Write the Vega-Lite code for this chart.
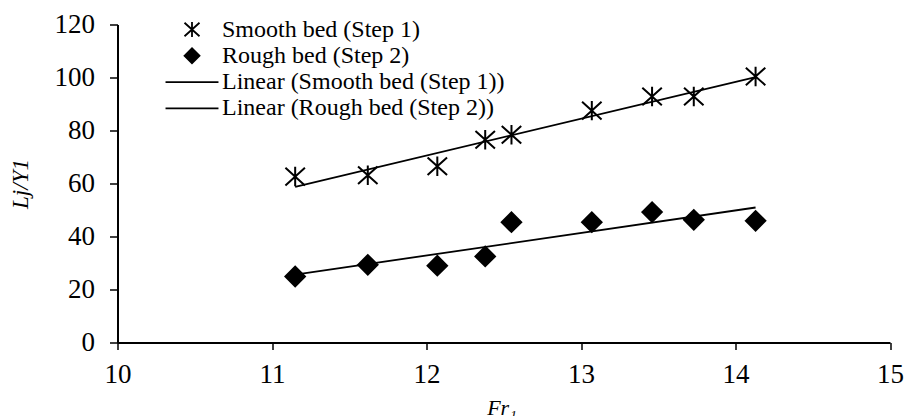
{
  "$schema": "https://vega.github.io/schema/vega-lite/v6.json",
  "width": 772.5,
  "height": 318,
  "autosize": {"type": "none"},
  "padding": {"left": 117.5, "top": 24.5, "right": 17, "bottom": 73.5},
  "background": "white",
  "config": {
    "view": {"stroke": null},
    "font": "Liberation Serif",
    "legend": {"symbolStrokeColor": "black", "symbolFillColor": "black", "symbolStrokeWidth": 1.8, "symbolOpacity": 1}
  },
  "data": {
    "values": [
      {"series": "Smooth bed (Step 1)", "fr": 11.15, "ly": 62.6},
      {"series": "Smooth bed (Step 1)", "fr": 11.62, "ly": 63.1},
      {"series": "Smooth bed (Step 1)", "fr": 12.07, "ly": 66.5},
      {"series": "Smooth bed (Step 1)", "fr": 12.38, "ly": 76.5},
      {"series": "Smooth bed (Step 1)", "fr": 12.55, "ly": 78.4},
      {"series": "Smooth bed (Step 1)", "fr": 13.07, "ly": 87.5},
      {"series": "Smooth bed (Step 1)", "fr": 13.46, "ly": 92.8},
      {"series": "Smooth bed (Step 1)", "fr": 13.73, "ly": 92.8},
      {"series": "Smooth bed (Step 1)", "fr": 14.13, "ly": 100.4},
      {"series": "Rough bed (Step 2)", "fr": 11.15, "ly": 24.9},
      {"series": "Rough bed (Step 2)", "fr": 11.62, "ly": 29.3},
      {"series": "Rough bed (Step 2)", "fr": 12.07, "ly": 29.0},
      {"series": "Rough bed (Step 2)", "fr": 12.38, "ly": 32.5},
      {"series": "Rough bed (Step 2)", "fr": 12.55, "ly": 45.4},
      {"series": "Rough bed (Step 2)", "fr": 13.07, "ly": 45.4},
      {"series": "Rough bed (Step 2)", "fr": 13.46, "ly": 49.2},
      {"series": "Rough bed (Step 2)", "fr": 13.73, "ly": 46.3},
      {"series": "Rough bed (Step 2)", "fr": 14.13, "ly": 45.9}
    ]
  },
  "layer": [
    {
      "mark": {"type": "point", "filled": false, "fill": "black", "strokeWidth": 2, "opacity": 1, "size": 380},
      "encoding": {
        "x": {
          "field": "fr", "type": "quantitative",
          "scale": {"domain": [10, 15], "nice": false, "zero": false},
          "axis": {
            "values": [10, 11, 12, 13, 14, 15], "format": "d",
            "title": "Fr₁", "titleFont": "Liberation Serif", "titleFontStyle": "italic", "titleFontWeight": "normal",
            "titleFontSize": 22, "titleColor": "black", "titleX": 384, "titleY": 72,
            "titleBaseline": "alphabetic", "titleAlign": "center",
            "labelFont": "Liberation Serif", "labelFontSize": 27, "labelColor": "black", "labelPadding": 12,
            "labelFlush": false, "labelOverlap": false,
            "tickSize": 7, "tickWidth": 1.5, "tickColor": "black",
            "domainColor": "black", "domainWidth": 2, "grid": false
          }
        },
        "y": {
          "field": "ly", "type": "quantitative",
          "scale": {"domain": [0, 120], "nice": false},
          "axis": {
            "values": [0, 20, 40, 60, 80, 100, 120], "format": "d",
            "title": "Lj/Y1", "titleFont": "Liberation Serif", "titleFontStyle": "italic", "titleFontWeight": "normal",
            "titleFontSize": 23, "titleColor": "black", "titleX": -90, "titleY": 159, "titleAngle": -90,
            "titleBaseline": "alphabetic", "titleAlign": "center",
            "labelFont": "Liberation Serif", "labelFontSize": 27, "labelColor": "black", "labelPadding": 15,
            "labelFlush": false, "labelOverlap": false,
            "tickSize": 8, "tickWidth": 1.5, "tickColor": "black",
            "domainColor": "black", "domainWidth": 2, "grid": false
          }
        },
        "color": {
          "field": "series", "type": "nominal",
          "scale": {
            "domain": ["Smooth bed (Step 1)", "Rough bed (Step 2)", "Linear (Smooth bed (Step 1))", "Linear (Rough bed (Step 2))"],
            "range": ["black", "black", "black", "black"]
          },
          "legend": {
            "orient": "none", "legendX": 62.5, "legendY": -7, "title": null,
            "labelFont": "Liberation Serif", "labelFontSize": 24, "labelColor": "black", "labelOffset": 18, "labelLimit": 500,
            "rowPadding": 2.3, "padding": 0, "symbolSize": 225, "symbolStrokeWidth": 1.8, "symbolOpacity": 1
          }
        },
        "shape": {
          "field": "series", "type": "nominal",
          "scale": {
            "domain": ["Smooth bed (Step 1)", "Rough bed (Step 2)", "Linear (Smooth bed (Step 1))", "Linear (Rough bed (Step 2))"],
            "range": ["M-1,-0.9L1,0.9M-1,0.9L1,-0.9M0,-1L0,1", "diamond", "M-3.53,0L3.53,0", "M-3.53,0L3.53,0"]
          },
          "legend": {
            "orient": "none", "legendX": 62.5, "legendY": -7, "title": null,
            "labelFont": "Liberation Serif", "labelFontSize": 24, "labelColor": "black", "labelOffset": 18, "labelLimit": 500,
            "rowPadding": 2.3, "padding": 0, "symbolSize": 225, "symbolStrokeWidth": 1.8, "symbolOpacity": 1
          }
        }
      }
    },
    {
      "transform": [{"regression": "ly", "on": "fr", "groupby": ["series"]}],
      "mark": {"type": "line", "color": "black", "strokeWidth": 1.8},
      "encoding": {
        "x": {"field": "fr", "type": "quantitative"},
        "y": {"field": "ly", "type": "quantitative"},
        "detail": {"field": "series", "type": "nominal"}
      }
    }
  ]
}
